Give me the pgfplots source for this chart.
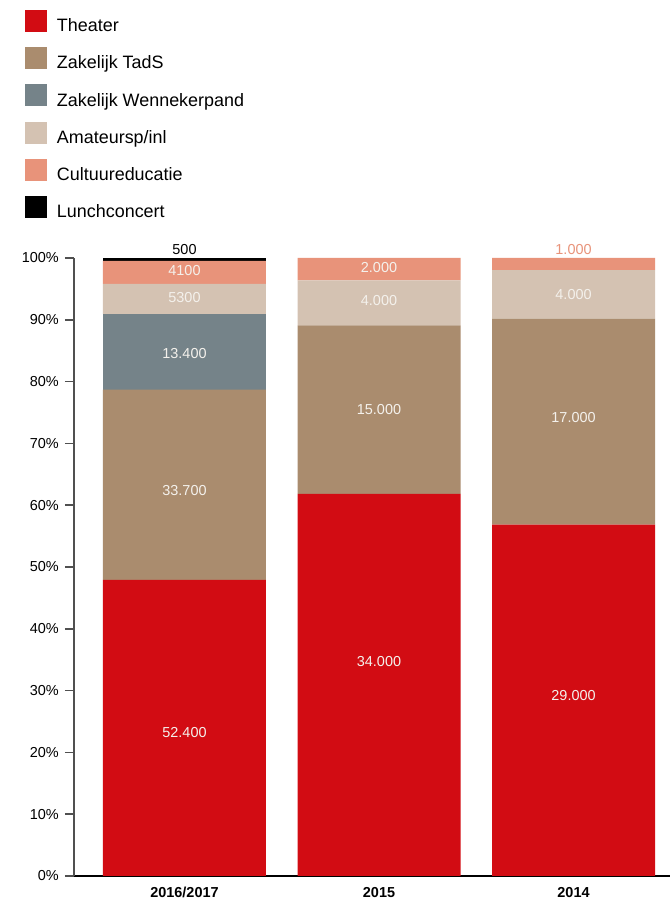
\documentclass[border=0pt]{standalone}
\usepackage{pgfplots}
\pgfplotsset{compat=1.18}
\usepackage{pgfplotstable}
\usepackage{fontspec}
\setmainfont{Liberation Sans}
\definecolor{cTheater}{HTML}{D20C13}
\definecolor{cTadS}{HTML}{AA8C6E}
\definecolor{cWenn}{HTML}{758389}
\definecolor{cAmateur}{HTML}{D4C2B2}
\definecolor{cCultuur}{HTML}{E8937A}
\definecolor{cLunch}{HTML}{000000}
\definecolor{cLabel}{HTML}{F4F1EC}
\definecolor{cAxis}{HTML}{505050}

% percentage shares computed from the values shown in the bars
\pgfplotstableread{
x Theater TadS Wenn Amateur Cultuur Lunch
0 47.898 30.804 12.249 4.845 3.748 0.457
1 61.818 27.273 0 7.273 3.636 0
2 56.863 33.333 0 7.843 1.961 0
}\datatable

% label positions (percent) and texts
\pgfplotstableread{
x y label
0 23.14 52.400
0 62.30 33.700
0 84.47 13.400
0 93.53 5300
0 97.90 4100
1 34.63 34.000
1 75.40 15.000
1 93.04 4.000
1 98.38 2.000
2 29.13 29.000
2 74.11 17.000
2 94.01 4.000
}\labelwhite
\pgfplotstableread{
x y label
0 101.29 500
}\labelblack
\pgfplotstableread{
x y label
2 101.29 1.000
}\labelsalmon

\begin{document}
\begin{tikzpicture}
\path[use as bounding box] (-74bp,-24bp) rectangle (596bp,876bp);
\begin{axis}[
  at={(0,0)}, anchor=south west,
  scale only axis, width=596bp, height=618bp,
  xmin=-0.568, xmax=2.496, ymin=0, ymax=100,
  ybar stacked, bar width=0.838,
  axis x line=bottom, axis y line=left,
  x axis line style={-, black, line width=1.5bp},
  y axis line style={-, cAxis, line width=1.5bp},
  ytick={0,10,...,100},
  yticklabel={\pgfmathprintnumber[assume math mode=true]{\tick}\%},
  y tick style={cAxis, line width=1.5bp},
  tick align=outside, major tick length=9bp,
  y tick label style={font=\fontsize{14.5}{17}\selectfont, inner sep=0pt, xshift=-6bp},
  xtick={0,1,2},
  xticklabels={2016/2017,2015,2014},
  x tick style={draw=none},
  x tick label style={font=\fontsize{14.5}{17}\selectfont\bfseries, anchor=north, inner sep=0pt, yshift=-2bp},
  legend cell align=left,
  legend image code/.code={%
    \path[fill=none, draw=none] (0bp,-8bp) rectangle (32bp,22bp);
    \fill[#1, draw=none] (0bp,0bp) rectangle (22bp,22bp);},
  legend style={at={(axis description cs:-0.08221,1.40129)}, anchor=north west,
    draw=none, fill=none, inner sep=0pt, outer sep=0pt, row sep=7.2bp, column sep=0pt,
    font=\fontsize{18}{22}\selectfont, nodes={inner sep=0pt, yshift=6bp}},
]
\addplot[fill=cTheater, draw=none] table[x=x, y=Theater]{\datatable};
\addlegendentry{Theater}
\addplot[fill=cTadS, draw=none] table[x=x, y=TadS]{\datatable};
\addlegendentry{Zakelijk TadS}
\addplot[fill=cWenn, draw=none] table[x=x, y=Wenn]{\datatable};
\addlegendentry{Zakelijk Wennekerpand}
\addplot[fill=cAmateur, draw=none] table[x=x, y=Amateur]{\datatable};
\addlegendentry{Amateursp/inl}
\addplot[fill=cCultuur, draw=none] table[x=x, y=Cultuur]{\datatable};
\addlegendentry{Cultuureducatie}
\addplot[fill=cLunch, draw=none] table[x=x, y=Lunch]{\datatable};
\addlegendentry{Lunchconcert}
\end{axis}
\begin{axis}[
  at={(0,0)}, anchor=south west,
  scale only axis, width=596bp, height=618bp,
  xmin=-0.568, xmax=2.496, ymin=0, ymax=100,
  hide axis, clip=false,
  nodes near coords, point meta=explicit symbolic,
]
\addplot[only marks, mark=none, nodes near coords style={anchor=center, text=cLabel, font=\fontsize{14.5}{17}\selectfont}] table[x=x, y=y, meta=label]{\labelwhite};
\addplot[only marks, mark=none, nodes near coords style={anchor=center, text=black, font=\fontsize{14.5}{17}\selectfont}] table[x=x, y=y, meta=label]{\labelblack};
\addplot[only marks, mark=none, nodes near coords style={anchor=center, text=cCultuur, font=\fontsize{14.5}{17}\selectfont}] table[x=x, y=y, meta=label]{\labelsalmon};
\end{axis}
\end{tikzpicture}
\end{document}
